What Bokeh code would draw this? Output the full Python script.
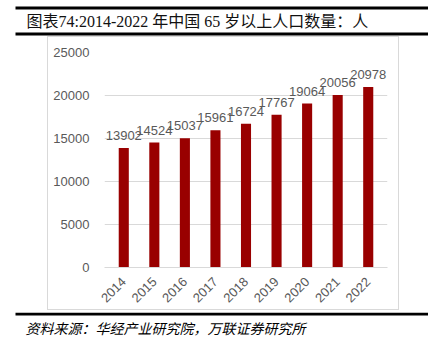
from bokeh.plotting import figure
from bokeh.models import ColumnDataSource, Range1d, FactorRange, Label, BoxAnnotation, LabelSet, Spacer
from bokeh.layouts import column, row
from bokeh.core.properties import value
from bokeh.embed import file_html
from bokeh.resources import INLINE
import math

years = ["2014", "2015", "2016", "2017", "2018", "2019", "2020", "2021", "2022"]
population = [13902, 14524, 15037, 15961, 16724, 17767, 19064, 20056, 20978]
y_ticks = [0, 5000, 10000, 15000, 20000, 25000]
title_text = "图表74:2014-2022 年中国 65 岁以上人口数量：人"
source_text = "资料来源：华经产业研究院，万联证券研究所"

W, H = 428, 341
TOP_H = 36       # title strip height
BOT_H = 29       # source strip height
MID_H = H - TOP_H - BOT_H


def strip(height):
    f = figure(width=W, height=height, x_range=Range1d(0, 1), y_range=Range1d(0, 1),
               output_backend="svg", toolbar_location=None,
               min_border=0, min_border_left=0, min_border_right=0, min_border_top=0, min_border_bottom=0)
    f.axis.visible = False
    f.grid.visible = False
    f.outline_line_color = None
    return f


def rule(f, height, top, bot):
    f.add_layout(BoxAnnotation(left=15, right=W, top=height - top, bottom=height - bot,
                               left_units="screen", right_units="screen",
                               top_units="screen", bottom_units="screen",
                               fill_color="black", fill_alpha=1, line_color=None))


# ---- title strip
t = strip(TOP_H)
rule(t, TOP_H, 6, 9)
rule(t, TOP_H, 32, 35)
t.add_layout(Label(x=26, y=TOP_H - 21, x_units="screen", y_units="screen", text=title_text,
                   text_baseline="middle", text_font_size="16px", text_color="#111111",
                   text_font="Liberation Serif, Noto Sans CJK SC"))

# ---- chart
CW, CH = 352, MID_H - 2
src = ColumnDataSource(dict(x=years, y=population, lab=[str(v) for v in population]))
p = figure(width=CW, height=CH, x_range=FactorRange(*years, range_padding=0.029),
           y_range=Range1d(0, 25000),
           output_backend="svg", toolbar_location=None,
           min_border_left=56, min_border_right=13, min_border_top=15, min_border_bottom=CH - 230,
           styles={"border": "1px solid #d9d9d9"})
p.outline_line_color = None

p.vbar(x="x", top="y", width=0.33, source=src, fill_color="#990000", line_color=None)

labels = LabelSet(x="x", y="y", text="lab", source=src, text_align="center", text_baseline="bottom",
                  y_offset=8, text_font_size=value("13px"), text_color=value("#595959"),
                  text_font=value("Liberation Sans"))
p.add_layout(labels)

p.yaxis.ticker = y_ticks
p.yaxis.axis_line_color = None
p.yaxis.major_tick_line_color = None
p.yaxis.minor_tick_line_color = None
p.yaxis.major_label_standoff = 9
p.yaxis.major_label_text_font = "Liberation Sans"
p.yaxis.major_label_text_font_size = "13px"
p.yaxis.major_label_text_color = "#595959"

p.xaxis.axis_line_color = "#d9d9d9"
p.xaxis.major_tick_line_color = None
p.xaxis.minor_tick_line_color = None
p.xaxis.major_label_orientation = math.pi / 4
p.xaxis.major_label_standoff = 6
p.xaxis.major_label_text_font = "Liberation Sans"
p.xaxis.major_label_text_font_size = "13px"
p.xaxis.major_label_text_color = "#595959"

p.xgrid.grid_line_color = None
p.ygrid.grid_line_color = "#d9d9d9"
p.ygrid.grid_line_width = 1

mid = row(Spacer(width=47, height=MID_H), p, Spacer(width=W - 47 - CW - 2, height=MID_H))

# ---- source strip
s = strip(BOT_H)
rule(s, BOT_H, 0, 3)
s.add_layout(Label(x=25, y=BOT_H - 15, x_units="screen", y_units="screen", text=source_text,
                   text_baseline="middle", text_font_size="14px", text_color="black",
                   text_font_style="italic", text_font="Noto Sans CJK SC"))

layout = column(t, mid, s)
open("out.html", "w").write(file_html(layout, INLINE))
